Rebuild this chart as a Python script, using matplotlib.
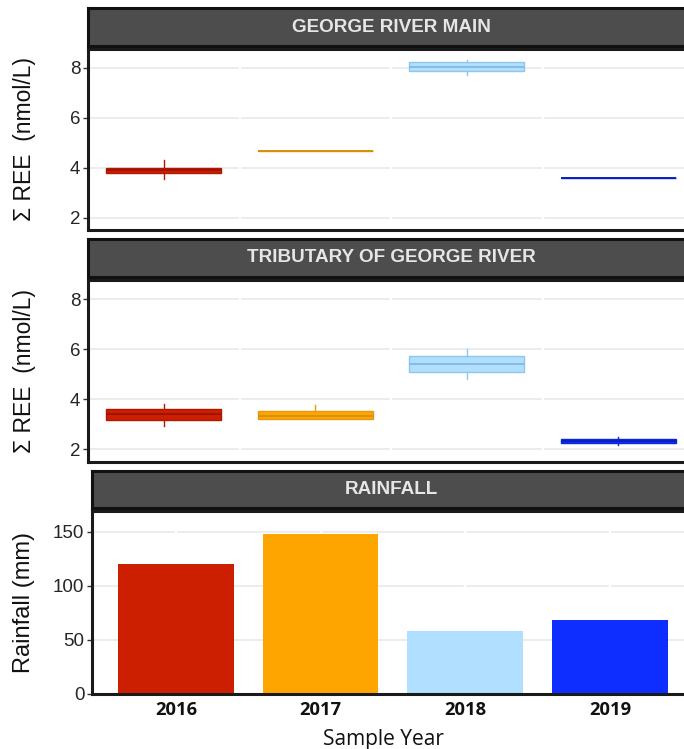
import matplotlib
matplotlib.use("Agg")
import matplotlib.pyplot as plt

# ---- data -------------------------------------------------------------
years = ["2016", "2017", "2018", "2019"]
year_colors = ["#CC1E00", "#FFA500", "#B0DFFF", "#0E2EFF"]
box_edges = ["#B01800", "#E39A12", "#8EC6EC", "#0A26DA"]
median_colors = ["#9E1400", "#D98E0A", "#86BCE2", "#0820C0"]

# George River main channel: whisker low, Q1, median, Q3, whisker high (nmol/L)
main_lo = [3.55, 4.66, 7.71, 3.58]
main_q1 = [3.78, 4.66, 7.88, 3.58]
main_med = [3.90, 4.66, 8.04, 3.58]
main_q3 = [4.00, 4.66, 8.22, 3.58]
main_hi = [4.30, 4.66, 8.31, 3.58]

# Tributary of George River
trib_lo = [2.92, 3.23, 4.82, 2.19]
trib_q1 = [3.19, 3.23, 5.10, 2.25]
trib_med = [3.40, 3.33, 5.42, 2.33]
trib_q3 = [3.63, 3.52, 5.72, 2.40]
trib_hi = [3.82, 3.78, 6.02, 2.48]

# Rainfall per sample year (mm)
rainfall_mm = [120, 148, 58, 68]

panel_titles = ["GEORGE RIVER MAIN", "TRIBUTARY OF GEORGE RIVER", "RAINFALL"]
ree_ticks = [2, 4, 6, 8]
rain_ticks = [0, 50, 100, 150]

# ---- layout helpers ---------------------------------------------------
W, H = 684, 749
fig = plt.figure(figsize=(W / 100, H / 100), dpi=100)
fig.patch.set_facecolor("white")

NUM_FONT = "Liberation Sans"
GRID = "#EBEBEB"
TICK_TXT = "#262626"


def rect(left, top, right, bottom):
    return [left / W, 1 - bottom / H, (right - left) / W, (bottom - top) / H]


def strip(left, top, right, bottom, title):
    sax = fig.add_axes(rect(left, top, right, bottom))
    sax.set_facecolor("#4D4D4D")
    for s in sax.spines.values():
        s.set_color("#111111")
        s.set_linewidth(2.2)
    sax.set_xticks([])
    sax.set_yticks([])
    fig.text(391.5 / W, 1 - ((top + bottom) / 2 + 0.5) / H, title,
             ha="center", va="center", color="#E6E6E6",
             fontsize=13.6, fontweight="bold", family=NUM_FONT)
    return sax


def style_panel(ax, yticks, breaks):
    ax.set_facecolor("white")
    for s in ax.spines.values():
        s.set_color("#1A1A1A")
        s.set_linewidth(2.2)
    ax.set_yticks(yticks)
    ax.set_yticklabels([str(t) for t in yticks], family=NUM_FONT,
                       fontsize=13.5, color=TICK_TXT)
    ax.tick_params(axis="y", length=3.5, width=1, color="#333333", pad=2)
    ax.grid(False)
    for t in yticks:
        ax.axhline(t, color=GRID, lw=1.3, zorder=0.5)
    for b in breaks:
        ax.axvline(b, color="white", lw=1.6, zorder=0.6)


def box_panel(ax, lo, q1, med, q3, hi):
    positions = list(range(1, len(years) + 1))
    for i in range(len(years)):
        st = dict(whislo=lo[i], q1=q1[i], med=med[i], q3=q3[i],
                  whishi=hi[i], fliers=[], label=years[i])
        ax.bxp([st], positions=[positions[i]], widths=0.76,
               patch_artist=True, showcaps=False, showfliers=False,
               boxprops=dict(facecolor=year_colors[i], edgecolor=box_edges[i],
                             linewidth=1.0),
               whiskerprops=dict(color=box_edges[i], linewidth=1.0),
               medianprops=dict(color=median_colors[i], linewidth=1.4),
               zorder=2)
    ax.set_xlim(0.5, 4.5)
    ax.set_ylim(1.5, 8.76)
    ax.set_xticks([])


# ---- panel 1: main channel -------------------------------------------
strip(88, 8.5, 700, 45.5, panel_titles[0])
ax1 = fig.add_axes(rect(88, 48.5, 694, 230))
style_panel(ax1, ree_ticks, [1.5, 2.5, 3.5])
box_panel(ax1, main_lo, main_q1, main_med, main_q3, main_hi)

# ---- panel 2: tributary ----------------------------------------------
strip(88, 238.5, 700, 276.5, panel_titles[1])
ax2 = fig.add_axes(rect(88, 280, 694, 462))
style_panel(ax2, ree_ticks, [1.5, 2.5, 3.5])
box_panel(ax2, trib_lo, trib_q1, trib_med, trib_q3, trib_hi)

# ---- panel 3: rainfall -----------------------------------------------
strip(92, 471, 700, 508, panel_titles[2])
ax3 = fig.add_axes(rect(92, 511, 691, 694))
style_panel(ax3, rain_ticks, [1, 2, 3, 4])
x = list(range(1, len(years) + 1))
ax3.bar(x, rainfall_mm, width=0.8, color=year_colors, zorder=2)
ax3.set_xlim(0.42, 4.56)
ax3.set_ylim(0, 169)
ax3.set_xticks(x)
ax3.set_xticklabels(years, family="Open Sans", fontweight="bold",
                    fontsize=13.2, color="#111111")
ax3.tick_params(axis="x", length=0, pad=5)

# ---- axis titles ------------------------------------------------------
for top, bottom in [(48.5, 230), (280, 462)]:
    fig.text(25 / W, 1 - ((top + bottom) / 2) / H, "\u03a3 REE  (nmol/L)",
             rotation=90, ha="center", va="center", fontsize=16.5,
             family=NUM_FONT, color="#111111")
fig.text(24 / W, 1 - 602.5 / H, "Rainfall (mm)", rotation=90,
         ha="center", va="center", fontsize=17, family=NUM_FONT,
         color="#111111")
fig.text(383 / W, 1 - 739 / H, "Sample Year", ha="center", va="center",
         fontsize=15, family="Open Sans", color="#111111")

fig.savefig("out.png", dpi=100)
